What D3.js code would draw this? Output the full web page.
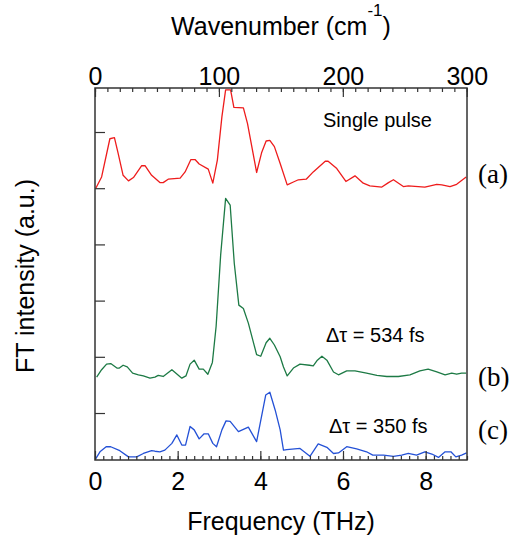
<!doctype html>
<html lang="en">
<head>
<meta charset="UTF-8">
<title>FT intensity</title>
<style>
    body { margin: 0; background: #fff; }
    svg { display: block; font-family: Arial, "Liberation Sans", sans-serif; }
    .frame { fill: none; stroke: #333; stroke-width: 1.5; }
    .axis path { display: none; }
    .axis line { stroke: #333; stroke-width: 1.2; }
    .axis text { font-size: 25px; fill: #000; font-family: Arial, "Liberation Sans", sans-serif; }
    .trace { fill: none; stroke-width: 1.3; stroke-linejoin: round; }
    .note { font-size: 20px; fill: #000; }
    .tag { font-size: 27px; fill: #000; font-family: "Times New Roman", "Liberation Serif", serif; }
</style>
</head>
<body>
<div class="chart"></div>
<script src="https://d3js.org/d3.v7.min.js"></script>
<script>
    // tick values
    const freqTicks = [0, 2, 4, 6, 8]
    const waveTicks = [0, 100, 200, 300]
    const intensityTicks = [0, 1, 2, 3, 4, 5]

    // (a) single pulse, offset trace
    const redFreq = [0.02, 0.16, 0.36, 0.47, 0.56, 0.68, 0.81, 0.93, 1.13, 1.21, 1.37, 1.57, 1.65, 1.77, 2.06, 2.18,
        2.32, 2.42, 2.52, 2.74, 2.85, 2.96, 3.07, 3.16, 3.28, 3.36, 3.59, 3.69, 3.91, 4.03, 4.14, 4.23, 4.34, 4.48,
        4.65, 4.80, 4.92, 5.11, 5.28, 5.57, 5.64, 5.85, 6.07, 6.29, 6.49, 6.65, 6.94, 7.10, 7.22, 7.46, 7.58, 7.98,
        8.27, 8.39, 8.59, 8.75, 8.98]
    const redInt = [4.00, 4.20, 4.88, 4.90, 4.62, 4.23, 4.13, 4.19, 4.40, 4.40, 4.23, 4.10, 4.10, 4.16, 4.18, 4.29,
        4.51, 4.51, 4.43, 4.34, 4.09, 4.50, 5.27, 5.75, 5.75, 5.44, 5.43, 5.15, 4.28, 4.63, 4.84, 4.85, 4.74, 4.44,
        4.06, 4.11, 4.15, 4.16, 4.29, 4.48, 4.48, 4.35, 4.12, 4.22, 4.09, 4.04, 4.02, 4.10, 4.15, 4.03, 4.04, 4.02,
        4.07, 4.06, 4.03, 4.07, 4.20]

    // (b) delta tau = 534 fs
    const greenFreq = [0.04, 0.16, 0.28, 0.38, 0.53, 0.59, 0.68, 0.78, 0.91, 1.05, 1.17, 1.33, 1.45, 1.53, 1.65, 1.86,
        2.10, 2.20, 2.30, 2.40, 2.52, 2.62, 2.73, 2.84, 2.93, 3.04, 3.16, 3.27, 3.37, 3.48, 3.59, 3.71, 3.91, 4.01,
        4.14, 4.23, 4.34, 4.48, 4.56, 4.65, 4.80, 4.96, 5.19, 5.28, 5.38, 5.49, 5.61, 5.77, 5.89, 6.09, 6.29, 6.57,
        6.82, 7.06, 7.34, 7.62, 7.86, 8.06, 8.27, 8.47, 8.63, 8.75, 8.87, 8.98]
    const greenInt = [0.64, 0.77, 0.87, 0.88, 0.80, 0.80, 0.85, 0.82, 0.71, 0.68, 0.66, 0.62, 0.64, 0.67, 0.65, 0.77,
        0.62, 0.66, 0.87, 0.94, 0.78, 0.78, 0.69, 0.90, 1.54, 2.81, 3.82, 3.70, 2.66, 1.92, 1.86, 1.60, 1.04, 1.01,
        1.25, 1.33, 1.21, 1.00, 0.82, 0.66, 0.80, 0.87, 0.85, 0.84, 0.94, 1.01, 0.94, 0.73, 0.68, 0.75, 0.75, 0.71,
        0.67, 0.65, 0.65, 0.68, 0.75, 0.78, 0.73, 0.68, 0.71, 0.69, 0.71, 0.71]

    // (c) delta tau = 350 fs
    const blueFreq = [0.02, 0.12, 0.27, 0.38, 0.60, 0.81, 1.01, 1.17, 1.37, 1.45, 1.57, 1.69, 1.86, 1.98, 2.10, 2.19,
        2.30, 2.40, 2.52, 2.64, 2.74, 2.85, 2.94, 3.07, 3.17, 3.27, 3.47, 3.71, 3.91, 4.13, 4.23, 4.36, 4.48, 4.56,
        4.64, 4.96, 5.20, 5.40, 5.61, 5.77, 5.89, 6.09, 6.33, 6.57, 6.72, 6.98, 7.22, 7.42, 7.58, 7.78, 7.98, 8.15,
        8.31, 8.47, 8.61, 8.73, 8.87, 8.99]
    const blueInt = [-0.81, -0.69, -0.60, -0.60, -0.67, -0.78, -0.78, -0.72, -0.67, -0.68, -0.69, -0.66, -0.54, -0.39,
        -0.57, -0.57, -0.24, -0.30, -0.46, -0.37, -0.37, -0.54, -0.60, -0.30, -0.14, -0.15, -0.33, -0.25, -0.51, 0.32,
        0.37, 0.05, -0.30, -0.66, -0.65, -0.63, -0.77, -0.55, -0.61, -0.72, -0.71, -0.60, -0.64, -0.69, -0.75, -0.75,
        -0.77, -0.75, -0.72, -0.75, -0.69, -0.73, -0.79, -0.69, -0.69, -0.78, -0.75, -0.71]

    const THZ_TO_CM = 33.356

    let dimensions = {
        width: 521,
        height: 537,
        left: 95,
        right: 467,
        top: 88,
        bottom: 460
    }

    const svg = d3.select('.chart')
        .append('svg')
        .attr('width', dimensions.width)
        .attr('height', dimensions.height)

    const xScale = d3.scaleLinear()
        .domain([0, 9])
        .range([dimensions.left, dimensions.right])
    const waveScale = d3.scaleLinear()
        .domain([0, 9 * THZ_TO_CM])
        .range([dimensions.left, dimensions.right])
    const yScale = d3.scaleLinear()
        .domain([-0.836, 5.783])
        .range([dimensions.bottom, dimensions.top])

    // traces
    const line = d3.line()
        .x(d => xScale(d[0]))
        .y(d => yScale(d[1]))

    const traces = [
        {f: redFreq, v: redInt, color: '#ee1c1c'},
        {f: greenFreq, v: greenInt, color: '#1d7a45'},
        {f: blueFreq, v: blueInt, color: '#2451d6'}
    ]
    svg.append('g')
        .selectAll('path')
        .data(traces)
        .enter().append('path')
        .attr('class', 'trace')
        .attr('stroke', d => d.color)
        .attr('d', d => line(d3.zip(d.f, d.v)))

    // bottom axis (inward ticks)
    svg.append('g')
        .attr('class', 'axis')
        .attr('transform', 'translate(0,' + dimensions.bottom + ')')
        .call(d3.axisBottom(xScale).tickValues(d3.range(0, 9.01, 0.2)).tickSize(-4).tickFormat(''))
    svg.append('g')
        .attr('class', 'axis')
        .attr('transform', 'translate(0,' + dimensions.bottom + ')')
        .call(d3.axisBottom(xScale).tickValues(freqTicks).tickSize(-9).tickPadding(12).tickFormat(d3.format('d')))

    // top axis, wavenumber
    svg.append('g')
        .attr('class', 'axis')
        .attr('transform', 'translate(0,' + dimensions.top + ')')
        .call(d3.axisTop(waveScale).tickValues(d3.range(0, 301, 10)).tickSize(-4).tickFormat(''))
    svg.append('g')
        .attr('class', 'axis')
        .attr('transform', 'translate(0,' + dimensions.top + ')')
        .call(d3.axisTop(waveScale).tickValues(waveTicks).tickSize(-9).tickPadding(3).tickFormat(d3.format('d')))

    // left axis, no labels
    svg.append('g')
        .attr('class', 'axis')
        .attr('transform', 'translate(' + dimensions.left + ',0)')
        .call(d3.axisLeft(yScale).tickValues(intensityTicks).tickSize(-10).tickFormat(''))

    // frame
    svg.append('rect')
        .attr('class', 'frame')
        .attr('x', dimensions.left)
        .attr('y', dimensions.top)
        .attr('width', dimensions.right - dimensions.left)
        .attr('height', dimensions.bottom - dimensions.top)

    // axis titles
    const topTitle = svg.append('text')
        .attr('x', (dimensions.left + dimensions.right) / 2)
        .attr('y', 35)
        .attr('text-anchor', 'middle')
        .style('font-size', '25px')
    topTitle.append('tspan').text('Wavenumber (cm')
    topTitle.append('tspan').attr('dy', -19).style('font-size', '17px').text('-1')
    topTitle.append('tspan').attr('dy', 19).text(')')

    svg.append('text')
        .attr('x', (dimensions.left + dimensions.right) / 2)
        .attr('y', 530)
        .attr('text-anchor', 'middle')
        .style('font-size', '25px')
        .text('Frequency (THz)')

    svg.append('text')
        .attr('transform', 'translate(34,276) rotate(-90)')
        .attr('text-anchor', 'middle')
        .style('font-size', '25px')
        .text('FT intensity (a.u.)')

    // annotations
    svg.append('text').attr('class', 'note').attr('x', 323).attr('y', 127).text('Single pulse')
    svg.append('text').attr('class', 'note').attr('x', 326).attr('y', 342).text('\u0394\u03c4 = 534 fs')
    svg.append('text').attr('class', 'note').attr('x', 329).attr('y', 433).text('\u0394\u03c4 = 350 fs')

    svg.append('text').attr('class', 'tag').attr('x', 478).attr('y', 183).text('(a)')
    svg.append('text').attr('class', 'tag').attr('x', 478).attr('y', 386).text('(b)')
    svg.append('text').attr('class', 'tag').attr('x', 478).attr('y', 439).text('(c)')
</script>
</body>
</html>
